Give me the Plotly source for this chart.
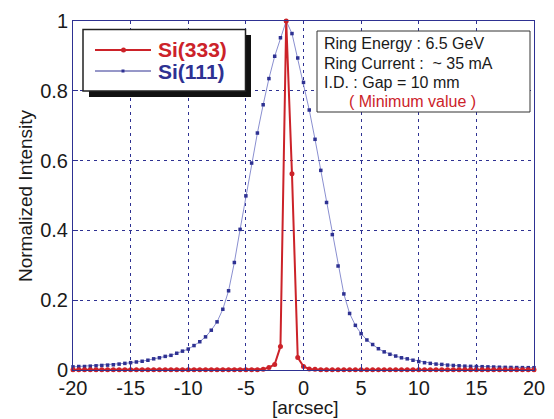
import plotly.graph_objects as go

x_arcsec = [-20, -19.5, -19, -18.5, -18, -17.5, -17, -16.5, -16, -15.5,
            -15, -14.5, -14, -13.5, -13, -12.5, -12, -11.5, -11, -10.5,
            -10, -9.5, -9, -8.5, -8, -7.5, -7, -6.5, -6, -5.5,
            -5, -4.5, -4, -3.5, -3, -2.5, -2, -1.5, -1, -0.5,
            0, 0.5, 1, 1.5, 2, 2.5, 3, 3.5, 4, 4.5,
            5, 5.5, 6, 6.5, 7, 7.5, 8, 8.5, 9, 9.5,
            10, 10.5, 11, 11.5, 12, 12.5, 13, 13.5, 14, 14.5,
            15, 15.5, 16, 16.5, 17, 17.5, 18, 18.5, 19, 19.5,
            20]

si111 = [0.009, 0.010, 0.010, 0.011, 0.012, 0.013, 0.014, 0.015, 0.017, 0.019,
         0.021, 0.023, 0.025, 0.028, 0.032, 0.035, 0.039, 0.042, 0.048, 0.054,
         0.060, 0.070, 0.081, 0.095, 0.114, 0.138, 0.174, 0.227, 0.308, 0.403,
         0.499, 0.593, 0.679, 0.760, 0.835, 0.899, 0.952, 1.000, 0.964, 0.894,
         0.824, 0.745, 0.661, 0.572, 0.480, 0.388, 0.298, 0.218, 0.162, 0.128,
         0.104, 0.086, 0.073, 0.061, 0.052, 0.045, 0.040, 0.035, 0.032, 0.028,
         0.024, 0.021, 0.019, 0.017, 0.016, 0.014, 0.013, 0.012, 0.011, 0.0105,
         0.010, 0.0095, 0.009, 0.0086, 0.008, 0.0076, 0.0073, 0.007, 0.0068, 0.0067,
         0.0066]

si333 = [0.001, 0.001, 0.001, 0.001, 0.001, 0.001, 0.001, 0.001, 0.001, 0.001,
         0.001, 0.001, 0.001, 0.001, 0.001, 0.001, 0.001, 0.001, 0.001, 0.001,
         0.001, 0.001, 0.001, 0.001, 0.001, 0.001, 0.001, 0.001, 0.001, 0.001,
         0.001, 0.001, 0.001, 0.002, 0.007, 0.016, 0.067, 1.000, 0.562, 0.036,
         0.010, 0.003, 0.002, 0.001, 0.001, 0.001, 0.001, 0.001, 0.001, 0.001,
         0.001, 0.001, 0.001, 0.001, 0.001, 0.001, 0.001, 0.001, 0.001, 0.001,
         0.001, 0.001, 0.001, 0.001, 0.001, 0.001, 0.001, 0.001, 0.001, 0.001,
         0.001, 0.001, 0.001, 0.001, 0.001, 0.001, 0.001, 0.001, 0.001, 0.001,
         0.001]

series_names = ["Si(333)", "Si(111)"]
x_ticks = [-20, -15, -10, -5, 0, 5, 10, 15, 20]
y_ticks = [0, 0.2, 0.4, 0.6, 0.8, 1]
y_tick_labels = ["0", "0.2", "0.4", "0.6", "0.8", "1"]

info_lines = ["Ring Energy : 6.5 GeV", "Ring Current :  ~ 35 mA", "I.D. : Gap = 10 mm"]
info_note = "( Minimum value )"

RED = "#cc2229"
BLUE_M = "#2e3192"
BLUE_L = "#8a8fd0"
AX = "#2e3192"
TXT = "#1a1a1a"
FONT = "Liberation Sans, Arial, Helvetica, sans-serif"

W, H = 554, 419
L, R, T, B = 73, 20, 21, 49
PW, PH = W - L - R, H - T - B


def px(xp):
    return (xp - L) / PW


def py(yp):
    return (H - B - yp) / PH


fig = go.Figure()
fig.add_trace(go.Scatter(
    x=x_arcsec, y=si111, mode="lines+markers", name=series_names[1],
    line=dict(color=BLUE_L, width=1),
    marker=dict(symbol="square", size=3.5, color=BLUE_M),
    cliponaxis=False, showlegend=False))
fig.add_trace(go.Scatter(
    x=x_arcsec, y=si333, mode="lines+markers", name=series_names[0],
    line=dict(color=RED, width=2),
    marker=dict(symbol="circle", size=5, color=RED),
    cliponaxis=False, showlegend=False))

axis_common = dict(showline=True, linecolor=AX, linewidth=1, mirror=True,
                   ticks="inside", ticklen=5, tickcolor=AX,
                   showgrid=True, gridcolor=AX, gridwidth=1, griddash="3px,4px",
                   zeroline=False, automargin=False,
                   tickfont=dict(family=FONT, size=20, color=TXT))

fig.update_xaxes(range=[-20, 20], tickvals=x_ticks, ticktext=[str(v) for v in x_ticks],
                 **axis_common)
fig.update_yaxes(range=[0, 1], tickvals=y_ticks, ticktext=y_tick_labels,
                 **axis_common)

# axis titles
fig.add_annotation(xref="paper", yref="paper", x=px(305), y=py(407), text="[arcsec]",
                   showarrow=False, xanchor="center", yanchor="middle",
                   font=dict(family=FONT, size=19, color=TXT))
fig.add_annotation(xref="paper", yref="paper", x=px(25), y=py(196), text="Normalized Intensity",
                   showarrow=False, xanchor="center", yanchor="middle", textangle=-90,
                   font=dict(family=FONT, size=19, color=TXT))

# info box
fig.add_shape(type="rect", xref="paper", yref="paper", x0=px(317), x1=px(530), y0=py(112), y1=py(31),
              fillcolor="white", line=dict(color="#333", width=1), layer="above")
info_rows = [(line, 322, TXT) for line in info_lines] + [(info_note, 347, RED)]
for (txt, x_left, col), y_c in zip(info_rows, [44, 63.5, 82.5, 101.5]):
    fig.add_annotation(xref="paper", yref="paper", x=px(x_left), y=py(y_c), xanchor="left", yanchor="middle",
                       text=txt, showarrow=False, align="left",
                       font=dict(family=FONT, size=16, color=col))

# legend (shadow, box, samples, labels)
fig.add_shape(type="rect", xref="paper", yref="paper", x0=px(89), x1=px(251), y0=py(97), y1=py(35),
              fillcolor="#111", line=dict(width=0), layer="above")
fig.add_shape(type="rect", xref="paper", yref="paper", x0=px(83), x1=px(245.5), y0=py(91), y1=py(29.5),
              fillcolor="white", line=dict(color="#222", width=1.5), layer="above")
fig.add_shape(type="line", xref="paper", yref="paper", x0=px(95), x1=px(151), y0=py(50), y1=py(50),
              line=dict(color=RED, width=2), layer="above")
fig.add_shape(type="circle", xref="paper", yref="paper", x0=px(121), x1=px(126), y0=py(52.5), y1=py(47.5),
              fillcolor=RED, line=dict(width=0), layer="above")
fig.add_shape(type="line", xref="paper", yref="paper", x0=px(95), x1=px(151), y0=py(71), y1=py(71),
              line=dict(color=BLUE_M, width=1), layer="above")
fig.add_shape(type="rect", xref="paper", yref="paper", x0=px(121.5), x1=px(124.5), y0=py(72.5), y1=py(69.5),
              fillcolor=BLUE_M, line=dict(width=0), layer="above")
fig.add_annotation(xref="paper", yref="paper", x=px(156), y=py(50), xanchor="left", yanchor="middle",
                   text="<b>" + series_names[0] + "</b>", showarrow=False,
                   font=dict(family=FONT, size=21, color=RED))
fig.add_annotation(xref="paper", yref="paper", x=px(156), y=py(71), xanchor="left", yanchor="middle",
                   text="<b>" + series_names[1] + "</b>", showarrow=False,
                   font=dict(family=FONT, size=21, color=BLUE_M))

fig.update_layout(
    width=W, height=H,
    margin=dict(l=L, r=R, t=T, b=B, autoexpand=False),
    paper_bgcolor="white", plot_bgcolor="white",
    showlegend=False,
    font=dict(family=FONT),
)

fig.write_html("out.html", config={"displayModeBar": False, "staticPlot": True},
               post_script="document.body.style.margin='0';document.body.style.overflow='hidden';")
